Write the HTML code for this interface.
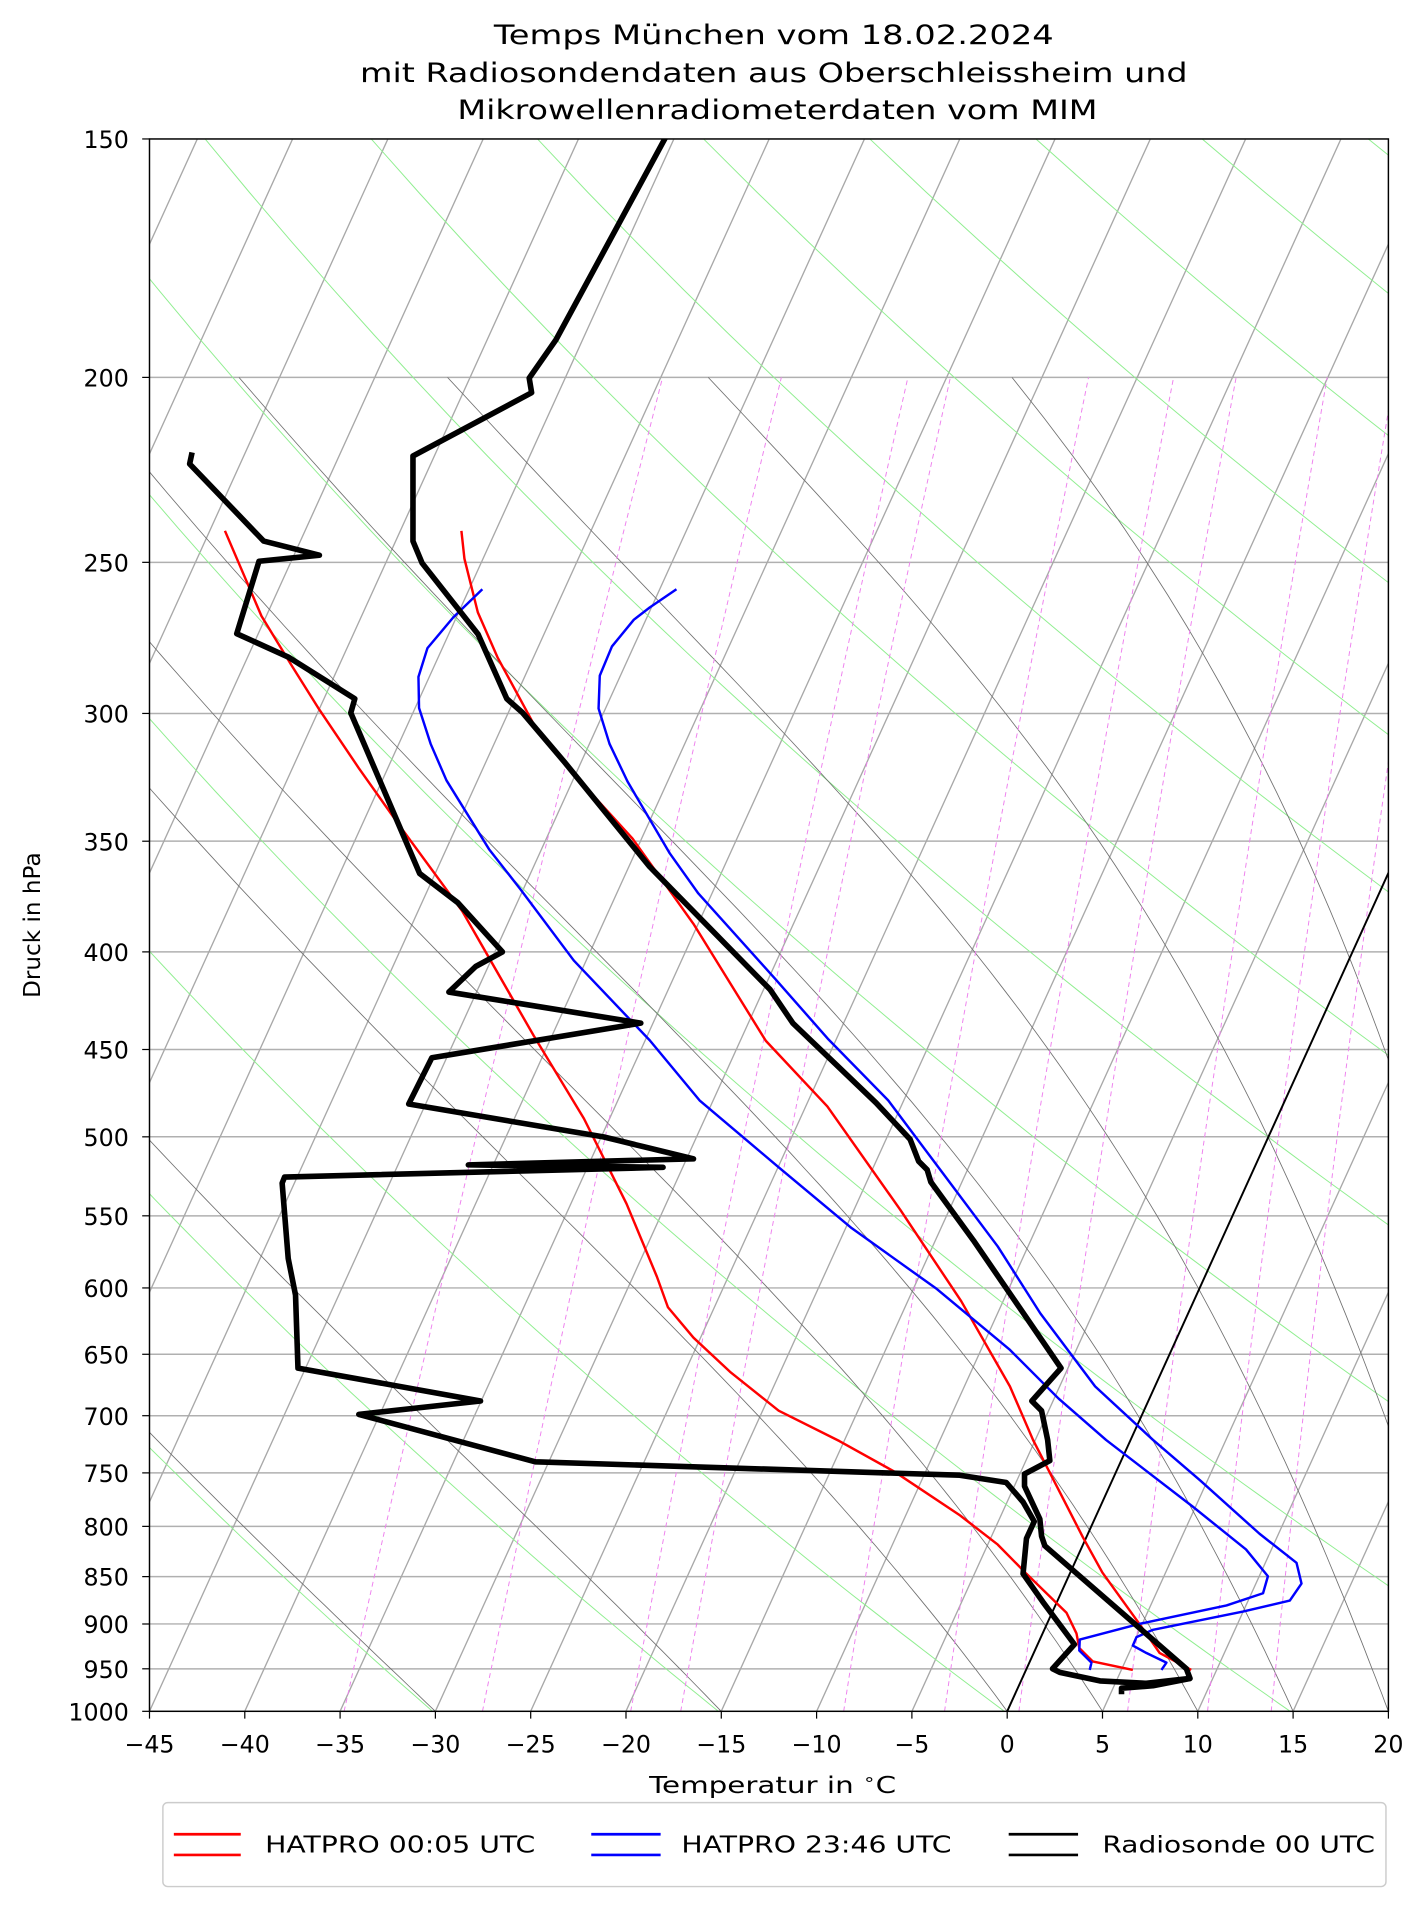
<!DOCTYPE html>
<html><head><meta charset="utf-8"><style>
html,body{margin:0;padding:0;background:#fff;}
svg{display:block;}
text{font-family:"DejaVu Sans","Liberation Sans",sans-serif;fill:#000;}
</style></head><body>
<svg id="s" width="1427" height="1907" viewBox="0 0 1427 1907" xmlns="http://www.w3.org/2000/svg">
<rect width="1427" height="1907" fill="#fff"/>
<g transform="translate(-0.2,-1) scale(1.217)">
<defs><clipPath id="c"><rect x="123" y="115" width="1018" height="1292"/></clipPath></defs>
<g id="bg" clip-path="url(#c)"></g>
<g id="data" clip-path="url(#c)" fill="none" stroke-linejoin="round" stroke-linecap="butt"></g>
<rect x="123" y="115" width="1018" height="1292" fill="none" stroke="#000" stroke-width="1.2"/>
<g id="ticks"></g>
<text x="636" y="37" font-size="22" text-anchor="middle" textLength="460" lengthAdjust="spacingAndGlyphs">Temps München vom 18.02.2024</text>
<text x="636" y="68" font-size="22" text-anchor="middle" textLength="680" lengthAdjust="spacingAndGlyphs">mit Radiosondendaten aus Oberschleissheim und</text>
<text x="639" y="98.5" font-size="22" text-anchor="middle" textLength="526" lengthAdjust="spacingAndGlyphs">Mikrowellenradiometerdaten vom MIM</text>
<text x="635" y="1474" font-size="19" text-anchor="middle" textLength="203" lengthAdjust="spacingAndGlyphs">Temperatur in <tspan font-size="13" dy="-7">∘</tspan><tspan dy="7">C</tspan></text>
<text transform="translate(33,761) rotate(-90)" font-size="19" text-anchor="middle">Druck in hPa</text>
<rect x="134" y="1482" width="1005" height="69" rx="4" fill="#fff" stroke="#cccccc" stroke-width="1.2"/>
<g stroke-width="2.2">
<line x1="143" y1="1508" x2="198" y2="1508" stroke="#ff0000"/><line x1="143" y1="1525" x2="198" y2="1525" stroke="#ff0000"/>
<line x1="486" y1="1508" x2="543" y2="1508" stroke="#0000ff"/><line x1="486" y1="1525" x2="543" y2="1525" stroke="#0000ff"/>
<line x1="829" y1="1508" x2="886" y2="1508" stroke="#000"/><line x1="829" y1="1525" x2="886" y2="1525" stroke="#000"/>
</g>
<text x="218" y="1523" font-size="19" textLength="222" lengthAdjust="spacingAndGlyphs">HATPRO 00:05 UTC</text>
<text x="560" y="1523" font-size="19" textLength="222" lengthAdjust="spacingAndGlyphs">HATPRO 23:46 UTC</text>
<text x="906" y="1523" font-size="19" textLength="224" lengthAdjust="spacingAndGlyphs">Radiosonde 00 UTC</text>
</g>
</svg>
<script>
(function(){
var X0=123,X1=1141,Y0=115,Y1=1407,K=1018/65,S=0.4547,L=Math.log(1000/150);
function yP(p){return Y0+(Y1-Y0)*Math.log(p/150)/L;}
function xT(T,y){return X0+(T+45)*K+S*(Y1-y);}
var bg='';
for(var p=150;p<=1000;p+=50){var y=yP(p);bg+='<line x1="123" x2="1141" y1="'+y.toFixed(1)+'" y2="'+y.toFixed(1)+'" stroke="#b0b0b0" stroke-width="1.2"/>';}
for(var T=-130;T<=20;T+=5){var xa=xT(T,Y1),xb=xT(T,Y0);bg+='<line x1="'+xa.toFixed(1)+'" y1="1407" x2="'+xb.toFixed(1)+'" y2="115" stroke="#a8a8a8" stroke-width="1.1"/>';}
function curve(f,pa,pb,step){var d='';for(var p=pa;p>=pb-0.01;p-=step){var T=f(p),y=yP(p);d+=(d?'L':'M')+xT(T,y).toFixed(1)+','+y.toFixed(1);}return d;}
// dry adiabats (green)
for(var k=213;k<=560;k+=15){(function(k){bg+='<path d="'+curve(function(p){return k*Math.pow(p/1000,0.286)-273.15;},1000,150,10)+'" fill="none" stroke="#90ee90" stroke-width="0.8"/>';})(k);}
// moist adiabats (dark)
function es(T){return 6.112*Math.exp(17.67*(T-273.15)/(T-29.65));}
[-30,-15,0,5,10,15,20,25,30].forEach(function(t0){
 var T=t0+273.15,d='',p=1000;
 while(p>=200){var y=yP(p);if(Math.round(p)%10==0)d+=(d?'L':'M')+xT(T-273.15,y).toFixed(1)+','+y.toFixed(1);
  var e=es(T),rs=0.622*e/Math.max(p-e,1);
  var dT=(287.04*T+2.501e6*rs)/(1005.7+2.501e6*2.501e6*rs*0.622/(287.04*T*T))/p;
  T-=dT;p-=1;}
 bg+='<path d="'+d+'" fill="none" stroke="#707070" stroke-width="0.7"/>';});
[0.2,0.4,0.8,1,2,3,4,6,8,10,15].forEach(function(w){
 var ww=w/1000;
 bg+='<path d="'+curve(function(p){var e=ww*p/(0.622+ww);var l=Math.log(e/6.112);return 243.5*l/(17.67-l);},1000,200,20)+'" fill="none" stroke="#ee82ee" stroke-width="0.8" stroke-dasharray="4,3"/>';});
bg+='<line x1="'+xT(0,Y1)+'" y1="1407" x2="'+xT(0,Y0)+'" y2="115" stroke="#000" stroke-width="1.6"/>';
document.getElementById('bg').innerHTML=bg;
function pl(a,c,w){return '<polyline points="'+a.map(function(q){return q[0]+','+q[1];}).join(' ')+'" stroke="'+c+'" stroke-width="'+w+'"/>';}
var redL=[[185,437],[215,507],[240,548],[262.6,584],[295,632],[328.7,679.6],[380,749.5],[438.8,852],[480,920],[515,990],[540,1050],[549,1075],[570,1100],[600,1128],[640,1160],[690,1185],[735,1210],[789,1246],[820,1270],[843.6,1294],[876.5,1326],[884.7,1343],[887,1355],[898,1366],[931,1373]];
var redR=[[379.3,437],[381.8,460],[392.8,504],[409,541],[438.8,596],[464,628.5],[520,690],[570,760],[629.4,856],[680,910],[740,995],[790,1070],[830,1140],[849,1184],[870,1225],[890,1264],[906,1293],[937,1336],[953,1359],[979,1373]];
var blueA=[[396.5,485],[372.7,508],[351.4,533.4],[344,557],[344.5,582.6],[354,612],[367,642],[402,698.6],[427.7,731.4],[471.6,790],[534,855.6],[575,905],[640,960],[700,1010],[770,1060],[830,1110],[870,1150],[909,1184],[980.5,1239],[1024,1274],[1042,1296],[1038,1310],[1008,1320],[937,1335],[887.4,1348],[887,1357],[897,1367],[895.6,1373]];
var blueB=[[556,485],[534,500],[521,510],[503,532],[493,556],[492,583],[501,612],[515.8,643],[550.5,702],[574,735],[637,805],[681,855],[730,905],[775,965],[820,1025],[855,1080],[900,1140],[947.6,1184],[986,1217],[1035,1261],[1065.5,1285],[1069.6,1302],[1060,1316],[1021.5,1325],[947.6,1340],[934,1346],[931,1353],[942,1359],[958.6,1367],[954.5,1373]];
var sT=[[548,112],[457,280],[435,311.5],[437,323.5],[339.5,375.5],[339.5,445.5],[347,463.5],[393,522],[416.6,575],[429.6,586.5],[464,627],[534,713],[633,814],[651.6,841.5],[720,907],[748,937],[755,955],[762,962],[765,972],[800,1020],[872,1125],[848,1152],[856,1160],[861,1184],[862.8,1201],[842,1212],[842,1222],[854.6,1249],[856,1263],[858.7,1271],[975,1372],[978,1380],[947.6,1386],[921.7,1388],[921.7,1393]];
var sD=[[158,372.6],[156,382],[216.8,445.4],[262.6,457],[213,462],[194.7,521.5],[237,540.7],[291.7,575],[288.4,586.6],[345,718.6],[376.3,742.5],[413,783],[391,795],[369,816],[526.7,841.5],[355,870],[336,908],[496,935],[570,953],[385,958],[545,960],[234,968],[232,973],[237,1035],[243,1065],[245,1125],[395,1152],[295,1163],[440,1202],[788.8,1213],[827,1219],[840.8,1235],[850,1251],[843.6,1265],[840.8,1294],[857,1317],[883,1352],[865,1372],[871,1375],[904,1382],[942,1384],[978,1380]];
document.getElementById('data').innerHTML=pl(redL,'#ff0000',2)+pl(redR,'#ff0000',2)+pl(blueA,'#0000ff',2)+pl(blueB,'#0000ff',2)+pl(sT,'#000',4.6)+pl(sD,'#000',4.6);
var t='';
for(var p=150;p<=1000;p+=50){var y=yP(p);t+='<line x1="117" x2="123" y1="'+y+'" y2="'+y+'" stroke="#000" stroke-width="1"/><text x="106" y="'+(y+7.5)+'" font-size="19.5" text-anchor="end">'+p+'</text>';}
for(var T=-45;T<=20;T+=5){var x=X0+(T+45)*K;t+='<line x1="'+x+'" x2="'+x+'" y1="1407" y2="1413" stroke="#000" stroke-width="1"/><text x="'+x+'" y="1441" font-size="19.5" text-anchor="middle">'+(T<0?'\u2212'+(-T):T)+'</text>';}
document.getElementById('ticks').innerHTML=t;
})();
</script>
</body></html>
